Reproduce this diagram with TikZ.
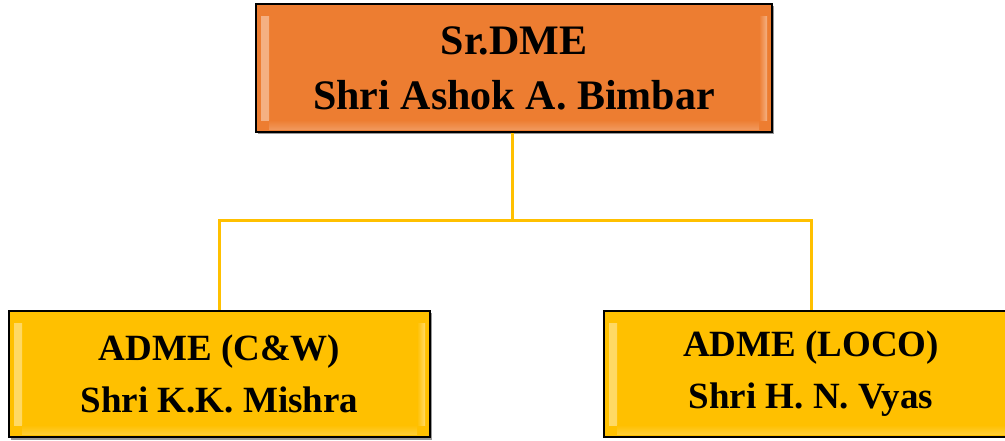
\documentclass[tikz,border=0pt]{standalone}
\usepackage{fontspec}
\setmainfont{Liberation Serif}
\usepackage{xcolor}
\usetikzlibrary{calc}

\definecolor{headorange}{HTML}{ED7D31}
\definecolor{subgold}{HTML}{FFC000}
\definecolor{linkgold}{HTML}{FFC000}

\tikzset{
  bevel/.style={
    path picture={
      \shade[left color=white!40!#1, right color=#1]
        ($(path picture bounding box.north west)+(5,-12)$) rectangle
        ($(path picture bounding box.south west)+(13,12)$);
      \shade[left color=#1, right color=white!40!#1]
        ($(path picture bounding box.north east)+(-13,-12)$) rectangle
        ($(path picture bounding box.south east)+(-5,12)$);
      \shade[top color=#1, bottom color=white!20!#1]
        ($(path picture bounding box.south west)+(13,12)$) rectangle
        ($(path picture bounding box.south east)+(-13,3)$);
    }},
  headbox/.style={draw=black, line width=2pt, fill=headorange, bevel=headorange,
    align=center, inner sep=0pt, minimum width=516, minimum height=128,
    font=\bfseries\fontsize{42}{55}\selectfont},
  subbox/.style={draw=black, line width=2pt, fill=subgold, bevel=subgold,
    align=center, inner sep=0pt, minimum height=126,
    font=\bfseries\fontsize{37}{52}\selectfont},
  link/.style={draw=linkgold, line width=3pt}
}

\begin{document}
\begin{tikzpicture}[x=1pt, y=1pt]
        \clip (0,0) rectangle (1005,-440);

        % Shadows
        \fill[black!40] (258,-6) rectangle (774,-134);
        \fill[black!40] (11,-313) rectangle (432,-440);

        % Boxes
        \node[headbox] (sdme) at (514,-68) {Sr.DME\\Shri Ashok A. Bimbar};
        \node[subbox, minimum width=421] (cw) at (219.5,-374) {ADME (C\&W)\\Shri K.K. Mishra};
        \node[subbox, minimum width=414] (loco) at (811,-374) {ADME (LOCO)\\Shri H. N. Vyas};

        % Connectors
        \coordinate (split) at (512,-220);
        \draw[link] (sdme.south -| split) -- (split);
        \draw[link] (split) -| (cw.north);
        \draw[link] (split) -| (loco.north);

\end{tikzpicture}
\end{document}
